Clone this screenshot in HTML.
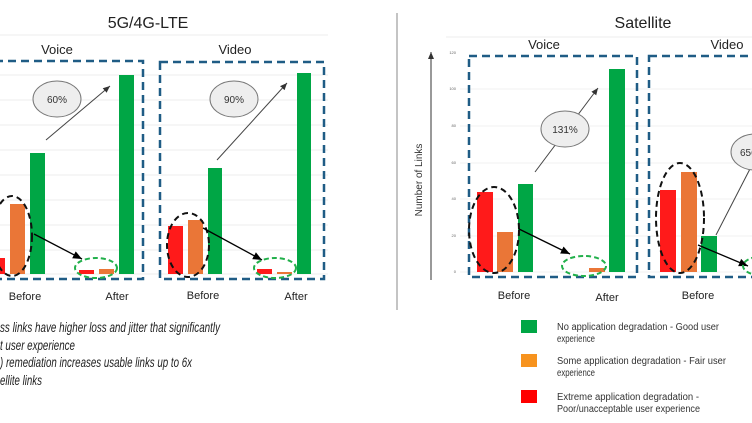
<!DOCTYPE html>
<html><head><meta charset="utf-8"><style>
html,body{margin:0;padding:0;background:#fff;width:752px;height:423px;overflow:hidden}
svg{display:block}
text{font-family:"Liberation Sans",sans-serif}
</style></head><body>
<svg width="752" height="423" viewBox="0 0 752 423" xmlns="http://www.w3.org/2000/svg">
<defs>
<marker id="ah" markerWidth="8" markerHeight="8" refX="7" refY="4" orient="auto"><path d="M0,1 L7,4 L0,7 z" fill="#333"/></marker>
<marker id="ahb" markerWidth="8" markerHeight="8" refX="7" refY="4" orient="auto"><path d="M0,1 L7,4 L0,7 z" fill="#000"/></marker>
</defs>
<!-- LEFT PANEL -->
<text x="148" y="28" font-size="16" text-anchor="middle" fill="#222">5G/4G-LTE</text>
<line x1="0" y1="35" x2="328" y2="35" stroke="#eee"/>
<text x="57" y="54" font-size="13" text-anchor="middle" fill="#222">Voice</text>
<text x="235" y="54" font-size="13" text-anchor="middle" fill="#222">Video</text>
<g stroke="#eee" stroke-width="1">
<line x1="0" y1="75" x2="328" y2="75"/><line x1="0" y1="100" x2="328" y2="100"/><line x1="0" y1="125" x2="328" y2="125"/><line x1="0" y1="150" x2="328" y2="150"/><line x1="0" y1="175" x2="328" y2="175"/><line x1="0" y1="200" x2="328" y2="200"/><line x1="0" y1="225" x2="328" y2="225"/><line x1="0" y1="250" x2="328" y2="250"/><line x1="0" y1="274" x2="328" y2="274"/>
</g>
<g fill="#ff1a1a"><rect x="0" y="258" width="5" height="16"/><rect x="79" y="270" width="15" height="4"/><rect x="168" y="226" width="15" height="48"/><rect x="257" y="269" width="15" height="5"/></g>
<g fill="#ea7637"><rect x="10" y="204" width="15" height="70"/><rect x="99" y="269" width="15" height="5"/><rect x="188" y="220" width="15" height="54"/><rect x="277" y="272" width="15" height="2"/></g>
<g fill="#00a645"><rect x="30" y="153" width="15" height="121"/><rect x="119" y="75" width="15" height="199"/><rect x="208" y="168" width="14" height="106"/><rect x="297" y="73" width="14" height="201"/></g>
<g stroke="#1f5c85" stroke-width="2.5" stroke-dasharray="8,5" fill="none">
<rect x="-5" y="61" width="148" height="218"/><rect x="160" y="62" width="164" height="217"/>
</g>
<line x1="46" y1="140" x2="110" y2="86" stroke="#444" stroke-width="1" marker-end="url(#ah)"/>
<line x1="217" y1="160" x2="287" y2="83" stroke="#444" stroke-width="1" marker-end="url(#ah)"/>
<ellipse cx="57" cy="99" rx="24" ry="18" fill="#eee" stroke="#777"/>
<text x="57" y="103" font-size="10" text-anchor="middle" fill="#333">60%</text>
<ellipse cx="234" cy="99" rx="24" ry="18" fill="#eee" stroke="#777"/>
<text x="234" y="103" font-size="10" text-anchor="middle" fill="#333">90%</text>
<g stroke="#111" stroke-width="2" stroke-dasharray="6,4" fill="none">
<ellipse cx="12" cy="236" rx="20" ry="40"/><ellipse cx="188" cy="245" rx="21" ry="32"/>
</g>
<line x1="34" y1="234" x2="82" y2="259" stroke="#000" stroke-width="1.3" marker-end="url(#ahb)"/>
<line x1="203" y1="228" x2="262" y2="260" stroke="#000" stroke-width="1.3" marker-end="url(#ahb)"/>
<g stroke="#22b04b" stroke-width="2" stroke-dasharray="5,3" fill="none">
<ellipse cx="96" cy="268" rx="21" ry="10"/><ellipse cx="275" cy="268" rx="21" ry="10"/>
</g>
<g font-size="11" fill="#222" text-anchor="middle">
<text x="25" y="300">Before</text><text x="117" y="300">After</text><text x="203" y="299">Before</text><text x="296" y="300">After</text>
</g>
<!-- separator -->
<line x1="397" y1="13" x2="397" y2="310" stroke="#888" stroke-width="1"/>
<!-- RIGHT PANEL -->
<text x="643" y="28" font-size="16" text-anchor="middle" fill="#222">Satellite</text>
<line x1="446" y1="37" x2="752" y2="37" stroke="#eee"/>
<text x="544" y="49" font-size="13" text-anchor="middle" fill="#222">Voice</text>
<text x="727" y="49" font-size="13" text-anchor="middle" fill="#222">Video</text>
<line x1="431" y1="280" x2="431" y2="52" stroke="#333" stroke-width="1" marker-end="url(#ah)"/>
<text x="422" y="180" font-size="10" fill="#333" text-anchor="middle" transform="rotate(-90 422 180)">Number of Links</text>
<g stroke="#f0f0f0"><line x1="460" y1="89" x2="752" y2="89"/><line x1="460" y1="126" x2="752" y2="126"/><line x1="460" y1="163" x2="752" y2="163"/><line x1="460" y1="199" x2="752" y2="199"/><line x1="460" y1="236" x2="752" y2="236"/><line x1="460" y1="272" x2="752" y2="272"/></g>
<g font-size="4" fill="#666" text-anchor="end"><text x="456" y="54">120</text><text x="456" y="90">100</text><text x="456" y="127">80</text><text x="456" y="164">60</text><text x="456" y="200">40</text><text x="456" y="237">20</text><text x="456" y="273">0</text></g>
<g fill="#ff1a1a"><rect x="477" y="192" width="16" height="80"/><rect x="660" y="190" width="16" height="82"/></g>
<g fill="#ea7637"><rect x="497" y="232" width="16" height="40"/><rect x="589" y="268" width="16" height="4"/><rect x="681" y="172" width="16" height="100"/></g>
<g fill="#00a645"><rect x="518" y="184" width="15" height="88"/><rect x="609" y="69" width="16" height="203"/><rect x="701" y="236" width="16" height="36"/></g>
<g stroke="#1f5c85" stroke-width="2.5" stroke-dasharray="8,5" fill="none">
<rect x="469" y="56" width="168" height="221"/><rect x="649" y="56" width="120" height="221"/>
</g>
<line x1="535" y1="172" x2="598" y2="88" stroke="#444" stroke-width="1" marker-end="url(#ah)"/>
<line x1="716" y1="235" x2="752" y2="165" stroke="#444" stroke-width="1"/>
<ellipse cx="565" cy="129" rx="24" ry="18" fill="#eee" stroke="#777"/>
<text x="565" y="133" font-size="10" text-anchor="middle" fill="#333">131%</text>
<ellipse cx="755" cy="152" rx="24" ry="18" fill="#eee" stroke="#777"/>
<text x="740" y="156" font-size="10" fill="#333">656%</text>
<g stroke="#111" stroke-width="2" stroke-dasharray="6,4" fill="none">
<ellipse cx="494" cy="230" rx="25" ry="43"/><ellipse cx="680" cy="218" rx="24" ry="55"/>
</g>
<line x1="519" y1="229" x2="570" y2="254" stroke="#000" stroke-width="1.3" marker-end="url(#ahb)"/>
<line x1="698" y1="245" x2="748" y2="266" stroke="#000" stroke-width="1.3" marker-end="url(#ahb)"/>
<g stroke="#22b04b" stroke-width="2" stroke-dasharray="5,3" fill="none">
<ellipse cx="584" cy="266" rx="22" ry="10"/><ellipse cx="765" cy="266" rx="22" ry="10"/>
</g>
<g font-size="11" fill="#222" text-anchor="middle">
<text x="514" y="299">Before</text><text x="607" y="301">After</text><text x="698" y="299">Before</text>
</g>
<!-- legend -->
<rect x="521" y="320" width="16" height="13" fill="#00a645"/>
<rect x="521" y="354" width="16" height="13" fill="#f7931e"/>
<rect x="521" y="390" width="16" height="13" fill="#ff0000"/>
<g font-size="10" fill="#333" lengthAdjust="spacingAndGlyphs">
<text x="557" y="330" textLength="162" lengthAdjust="spacingAndGlyphs">No application degradation - Good user</text><text x="557" y="342" textLength="38" lengthAdjust="spacingAndGlyphs">experience</text>
<text x="557" y="364" textLength="169" lengthAdjust="spacingAndGlyphs">Some application degradation - Fair user</text><text x="557" y="376" textLength="38" lengthAdjust="spacingAndGlyphs">experience</text>
<text x="557" y="400" textLength="142" lengthAdjust="spacingAndGlyphs">Extreme application degradation -</text><text x="557" y="412" textLength="143" lengthAdjust="spacingAndGlyphs">Poor/unacceptable user experience</text>
</g>
<!-- bottom-left text -->
<g font-size="14" font-style="italic" fill="#222">
<text x="0" y="332" textLength="220" lengthAdjust="spacingAndGlyphs">ss links have higher loss and jitter that significantly</text>
<text x="0" y="350" textLength="75" lengthAdjust="spacingAndGlyphs">t user experience</text>
<text x="0" y="367" textLength="192" lengthAdjust="spacingAndGlyphs">) remediation increases usable links up to 6x</text>
<text x="0" y="385" textLength="42" lengthAdjust="spacingAndGlyphs">ellite links</text>
</g>
</svg>
</body></html>
